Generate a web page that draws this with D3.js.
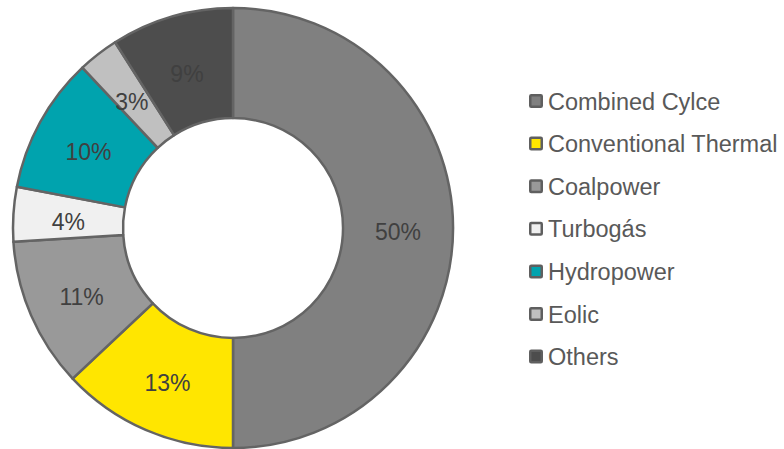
<!DOCTYPE html>
<html>
<head>
<meta charset="utf-8">
<script src="https://cdn.jsdelivr.net/npm/d3@7/dist/d3.min.js"></script>
<style>
  html, body { margin: 0; padding: 0; background: #ffffff; }
  svg { display: block; font-family: "Liberation Sans", Arial, sans-serif; }
</style>
</head>
<body>
<svg id="chart" width="784" height="449"></svg>
<script>
// Generation mix shares (percent)
const categories = ["Combined Cylce", "Conventional Thermal", "Coalpower", "Turbogás", "Hydropower", "Eolic", "Others"];
const shares = [50, 13, 11, 4, 10, 3, 9];
const colors = ["#808080", "#FFE600", "#999999", "#F0F0F0", "#00A3AE", "#C0C0C0", "#4D4D4D"];

const svg = d3.select("#chart");
const cx = 233, cy = 228;
const outerR = 220, innerR = 110;

const data = categories.map((name, i) => ({ name, value: shares[i], color: colors[i] }));

const pie = d3.pie().value(d => d.value).sort(null);
const arc = d3.arc().innerRadius(innerR).outerRadius(outerR);

const g = svg.append("g").attr("transform", `translate(${cx},${cy})`);
const arcs = pie(data);

g.selectAll("path.slice")
  .data(arcs)
  .join("path")
  .attr("class", "slice")
  .attr("d", arc)
  .attr("fill", d => d.data.color)
  .attr("stroke", "#646464")
  .attr("stroke-width", 2.5)
  .attr("stroke-linejoin", "round");

// Percentage labels at the middle of each ring segment
g.selectAll("text.pct")
  .data(arcs)
  .join("text")
  .attr("class", "pct")
  .attr("transform", d => `translate(${arc.centroid(d)})`)
  .attr("text-anchor", "middle")
  .attr("dy", "0.52em")
  .attr("font-size", 23)
  .attr("fill", "#404040")
  .text(d => d3.format("d")(d.data.value) + "%");

// Legend
const legend = svg.append("g").attr("transform", "translate(529,101)");
const rowStep = 42.6;
const rows = legend.selectAll("g.row")
  .data(data)
  .join("g")
  .attr("class", "row")
  .attr("transform", (d, i) => `translate(0,${i * rowStep})`);

rows.append("rect")
  .attr("x", 1.25).attr("y", -5.75)
  .attr("width", 11.5).attr("height", 11.5)
  .attr("rx", 1)
  .attr("fill", d => d.color)
  .attr("stroke", "#5f5f5f")
  .attr("stroke-width", 2.5);

rows.append("text")
  .attr("x", 19)
  .attr("y", 8.5)
  .attr("font-size", 23.5)
  .attr("fill", "#595959")
  .text(d => d.name);
</script>
</body>
</html>
